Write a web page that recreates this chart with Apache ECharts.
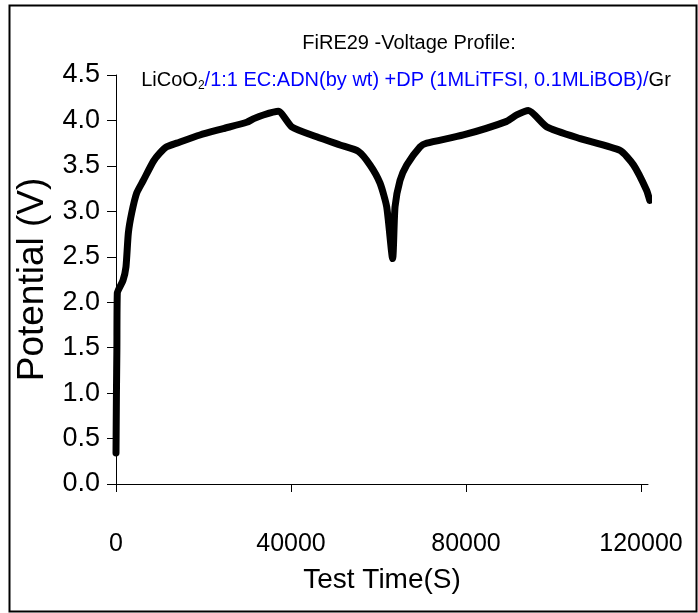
<!DOCTYPE html>
<html>
<head>
<meta charset="utf-8">
<script src="https://cdn.jsdelivr.net/npm/echarts@6/dist/echarts.min.js"></script>
<style>
html,body{margin:0;padding:0;background:#fff;}
#chart{width:698px;height:613px;}
</style>
</head>
<body>
<div id="chart"></div>
<script>
// Test time (s)
var timeS = [0, 100, 200, 300, 1600, 2280, 2820, 3580, 4720, 6250, 8530, 10000, 11590, 13870,
  19200, 24500, 29870, 31500, 33680, 37100, 40160, 45870, 51200, 55400, 58060, 60350, 61870,
  63230, 63780, 64920, 66450, 69500, 71020, 79400, 89300, 91590, 94260, 98460, 106100, 115200,
  118300, 121300, 122000];
// Potential (V)
var voltV = [0.34, 1.0, 1.47, 2.10, 2.24, 2.39, 2.76, 2.98, 3.20, 3.34, 3.55, 3.64, 3.71, 3.75,
  3.84, 3.91, 3.98, 4.02, 4.06, 4.10, 3.93, 3.82, 3.73, 3.66, 3.51, 3.31, 3.05,
  2.48, 3.05, 3.34, 3.51, 3.71, 3.75, 3.84, 3.99, 4.06, 4.11, 3.93, 3.80, 3.67,
  3.51, 3.23, 3.12];
// thin tail at end of record
var tailTime = [122000, 122500];
var tailVolt = [3.12, 2.94];

var xTicks = [0, 40000, 80000, 120000];
var yMin = 0, yMax = 4.5, yStep = 0.5;
var xMin = 0, xMax = 121600;

var mainData = timeS.map(function (t, i) { return [t, voltV[i]]; });
var tailData = tailTime.map(function (t, i) { return [t, tailVolt[i]]; });

var FONT = 'Liberation Sans';
var chart = echarts.init(document.getElementById('chart'));
chart.setOption({
  backgroundColor: '#fff',
  animation: false,
  title: [
    {
      text: 'FiRE29 -Voltage Profile:',
      left: 404, top: 28, textAlign: 'center',
      textStyle: { fontFamily: FONT, fontSize: 20, fontWeight: 'normal', color: '#000' }
    },
    {
      text: '{k|LiCoO}{s|2}{b|/1:1 EC:ADN(by wt) +DP (1MLiTFSI, 0.1MLiBOB)/}{k|Gr}',
      left: 401, top: 61, textAlign: 'center',
      textStyle: {
        fontFamily: FONT, fontSize: 20, fontWeight: 'normal',
        rich: {
          k: { fontFamily: FONT, fontSize: 20, color: '#000', lineHeight: 24, verticalAlign: 'bottom' },
          s: { fontFamily: FONT, fontSize: 12, color: '#000', lineHeight: 24, verticalAlign: 'bottom', padding: [0, 0, -2, 0] },
          b: { fontFamily: FONT, fontSize: 20, color: '#0000ff', lineHeight: 24, verticalAlign: 'bottom' }
        }
      }
    }
  ],
  graphic: [{
    type: 'rect', left: 7, top: 3, z: 100,
    shape: { width: 687, height: 606 },
    style: { fill: 'none', stroke: '#000', lineWidth: 2 }
  }],
  grid: { left: 116, top: 75, right: 50, bottom: 129, containLabel: false },
  xAxis: {
    type: 'value', min: xMin, max: xMax,
    name: 'Test Time(S)', nameLocation: 'middle', nameGap: 82,
    nameTextStyle: { fontFamily: FONT, fontSize: 28, color: '#000' },
    axisLine: { show: true, onZero: false, lineStyle: { color: '#000', width: 1 } },
    axisTick: { show: true, inside: false, length: 8, customValues: xTicks, lineStyle: { color: '#000' } },
    axisLabel: { customValues: xTicks, fontFamily: FONT, fontSize: 25, color: '#000', margin: 48,
      formatter: function (v) { return String(v); } },
    splitLine: { show: false }
  },
  yAxis: {
    type: 'value', min: yMin, max: yMax, interval: yStep,
    name: 'Potential (V)', nameLocation: 'middle', nameGap: 61,
    nameTextStyle: { fontFamily: FONT, fontSize: 37, color: '#000' },
    axisLine: { show: true, lineStyle: { color: '#000', width: 1 } },
    axisTick: { show: true, inside: false, length: 9, lineStyle: { color: '#000' } },
    axisLabel: { fontFamily: FONT, fontSize: 27, color: '#000', margin: 16,
      formatter: function (v) { return v.toFixed(1); } },
    splitLine: { show: false }
  },
  series: [
    {
      type: 'line', data: mainData, showSymbol: false, smooth: 0.2,
      lineStyle: { color: '#000', width: 7, cap: 'round', join: 'round' }
    },
    {
      type: 'line', data: tailData, showSymbol: false,
      lineStyle: { color: '#000', width: 2 }
    }
  ]
});
</script>
</body>
</html>
